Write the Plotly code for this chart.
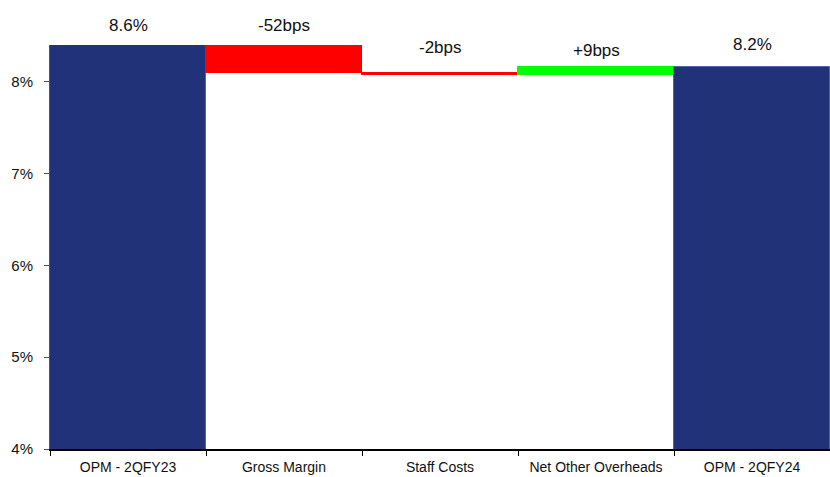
import plotly.graph_objects as go

categories = ["OPM - 2QFY23", "Gross Margin", "Staff Costs", "Net Other Overheads", "OPM - 2QFY24"]
start_value = 8.61
changes = [-0.52, -0.02, 0.09]
labels = ["8.6%", "-52bps", "-2bps", "+9bps", "8.2%"]
label_shift = [0, 0, 26, 17, 23]
ytick_vals = [4, 5, 6, 7, 8]
ytick_text = ["4%", "5%", "6%", "7%", "8%"]
y_min, y_max = 4.0, 8.4

BLUE = "#213279"
RED = "#FF0000"
GREEN = "#00FF00"

# compute bases and heights from data
bases, heights, colors, tops = [], [], [], []
bases.append(y_min - 0.03)
heights.append(start_value - bases[0])
colors.append(BLUE)
tops.append(start_value)
level = start_value
for c in changes:
    new = level + c
    lo, hi = min(level, new), max(level, new)
    bases.append(lo)
    heights.append(hi - lo)
    colors.append(GREEN if c > 0 else RED)
    tops.append(hi)
    level = new
bases.append(y_min - 0.03)
heights.append(level - bases[-1])
colors.append(BLUE)
tops.append(level)

line_colors = ["#5566a8" if c == BLUE else c for c in colors]

FONT = "Liberation Sans, Arial, sans-serif"

fig = go.Figure()
fig.add_trace(go.Bar(
    x=categories, y=heights, base=bases,
    marker=dict(color=colors, line=dict(color=line_colors, width=1)),
    width=1.0, hoverinfo="skip",
))

for cat, top, txt, sh in zip(categories, tops, labels, label_shift):
    fig.add_annotation(x=cat, y=(top - y_min) / (y_max - y_min), yref="paper",
                       text=txt, showarrow=False, yanchor="middle",
                       yshift=sh, font=dict(family=FONT, size=17, color="#111111"))

fig.update_layout(
    width=830, height=477,
    margin=dict(l=50, r=0, t=45, b=28, autoexpand=False),
    plot_bgcolor="white", paper_bgcolor="white",
    showlegend=False, bargap=0,
    font=dict(family=FONT, size=15, color="#111111"),
    xaxis=dict(type="category", showgrid=False, showline=True, linecolor="#000000", linewidth=1.5,
               ticks="outside", tickson="boundaries", ticklen=5, tickcolor="#000000",
               tickangle=0, automargin=False, ticklabelstandoff=4,
               tickfont=dict(family=FONT, size=14), fixedrange=True),
    yaxis=dict(range=[y_min, y_max], showgrid=False, zeroline=False, showline=True, linecolor="#555555",
               linewidth=1, ticks="outside", ticklen=5, tickcolor="#555555", automargin=False,
               ticklabelstandoff=8,
               tickvals=ytick_vals, ticktext=ytick_text, tickfont=dict(family=FONT, size=15),
               fixedrange=True),
)

fig.write_html("out.html")
